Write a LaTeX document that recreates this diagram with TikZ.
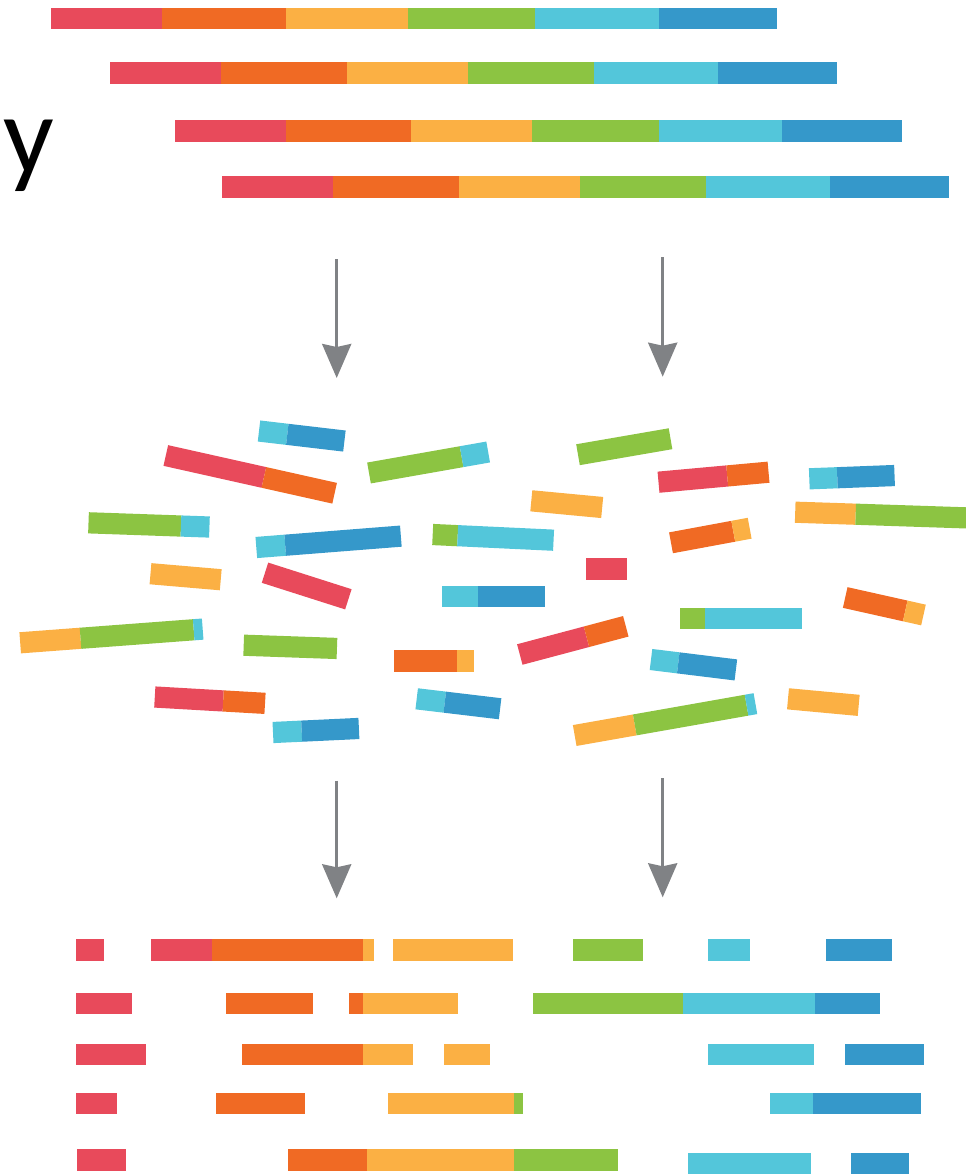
\documentclass[tikz,border=0pt]{standalone}
\usepackage{fontspec}
\newfontfamily\labelfont{Carlito}
\usetikzlibrary{arrows.meta}
\definecolor{cR}{HTML}{E84A5B}
\definecolor{cO}{HTML}{F06A24}
\definecolor{cY}{HTML}{FBB044}
\definecolor{cG}{HTML}{8CC442}
\definecolor{cL}{HTML}{53C6DA}
\definecolor{cB}{HTML}{3598CA}
\definecolor{cGray}{HTML}{808285}
\tikzset{
  flowarrow/.style={draw=cGray, line width=3.2pt, -{Stealth[length=34pt,width=29pt,inset=3pt]}},
  letter/.style={inner sep=0pt, outer sep=0pt, font=\labelfont\fontsize{112}{130}\selectfont, text=black},
}
% fragment: left-end midpoint x, y, visual angle, list colour/from/to along the bar
\newcommand{\frg}[4]{\begin{scope}[shift={(#1,#2)},rotate=#3]
  \foreach \c/\a/\b in {#4}{\fill[\c] (\a,-10.6) rectangle (\b,10.6);}
\end{scope}}
% horizontal bar row: top y, bottom y, list colour/x0/x1
\newcommand{\hrow}[3]{\foreach \c/\a/\b in {#3}{\fill[\c] (\a,#1) rectangle (\b,#2);}}
\begin{document}
\begin{tikzpicture}[x=1pt,y=-1pt]
\useasboundingbox (0,0) rectangle (966,1175);
\clip (0,0) rectangle (966,1175);

% ---- genome copies (top)
\hrow{7.5}{29}{cR/50.7/161.7, cO/161.7/286.3, cY/286.3/408, cG/408/534.7, cL/534.7/658.7, cB/658.7/777}
\hrow{62}{84.3}{cR/110.3/221.3, cO/221.3/347, cY/347/468.3, cG/468.3/594, cL/594/718, cB/718/837}
\hrow{120}{142}{cR/174.7/286.3, cO/286.3/410.7, cY/410.7/532, cG/532/658.7, cL/658.7/782.3, cB/782.3/901.7}
\hrow{175.7}{197.7}{cR/222.3/333.3, cO/333.3/458.7, cY/458.7/580, cG/580/705.7, cL/705.7/829.7, cB/829.7/949}

\node[letter, anchor=base west] (ylab) at (4,173) {y};

% ---- arrows
\coordinate (a1s) at (336.7,259.3);
\coordinate (a1e) at (336.7,378);
\coordinate (a2s) at (662.7,257.3);
\coordinate (a2e) at (662.7,376.7);
\coordinate (b1s) at (336.7,780.7);
\coordinate (b1e) at (336.7,898.3);
\coordinate (b2s) at (662.7,778.3);
\coordinate (b2e) at (662.7,897.3);
\draw[flowarrow] (a1s) -- (a1e);
\draw[flowarrow] (a2s) -- (a2e);
\draw[flowarrow] (b1s) -- (b1e);
\draw[flowarrow] (b2s) -- (b2e);

% ---- shuffled fragments (middle)
\frg{259}{431}{-6.7}{cL/0/28.5, cB/28.5/86}
\frg{165.8}{455.5}{-12.6}{cR/0/100.5, cO/100.5/173}
\frg{369}{473}{10}{cG/0/94, cL/94/121}
\frg{88.5}{522.8}{-2}{cG/0/92.5, cL/92.5/121}
\frg{256.3}{547.5}{4.5}{cL/0/29, cB/29/145}
\frg{432.7}{534.5}{-2.7}{cG/0/25, cL/25/121}
\frg{150.5}{573.7}{-4.9}{cY/0/70.5}
\frg{265}{572.7}{-17.7}{cR/0/87.5}
\hrow{585.7}{607.3}{cL/441.7/478.3, cB/478.3/545}
\frg{20.2}{642.8}{4.3}{cY/0/60.5, cG/60.5/174, cL/174/183}
\frg{243.7}{645.2}{-2}{cG/0/93.3}
\hrow{650}{672.3}{cO/394.3/456.7, cY/456.7/474.3}
\frg{154.8}{697}{-3.3}{cR/0/68.5, cO/68.5/110.4}
\frg{273}{732.5}{2.7}{cL/0/28.7, cB/28.7/86}
\frg{416.7}{698.8}{-6.8}{cL/0/28.3, cB/28.3/84}
\frg{519.8}{654.5}{14.9}{cR/0/69, cO/69/109.7}
\hrow{608.3}{629.3}{cG/679.7/704.7, cL/704.7/802}
\frg{845.2}{597.5}{-12.6}{cO/0/61.5, cY/61.5/80.2}
\frg{651}{659.5}{-7}{cL/0/27.5, cB/27.5/85.5}
\frg{574.7}{735.5}{10}{cY/0/61, cG/61/174.5, cL/174.5/183.5}
\frg{788}{698.8}{-5.3}{cY/0/71}
\frg{578}{454.7}{9.8}{cG/0/93.9}
\frg{658.5}{482.2}{5.2}{cR/0/69, cO/69/110.5}
\frg{809.3}{478.8}{2.2}{cL/0/28, cB/28/85.3}
\frg{531.3}{500.8}{-5.4}{cY/0/71.2}
\frg{795.2}{512.2}{-1.9}{cY/0/60.5, cG/60.5/175}
\frg{671}{542.8}{10.5}{cO/0/63.3, cY/63.3/80}
\hrow{557.7}{580}{cR/586.3/627.3}

% ---- aligned reads (bottom)
\hrow{939.3}{960.7}{cR/76.3/104.3, cR/150.7/211.7, cO/211.7/362.7, cY/362.7/374.3, cY/392.7/513, cG/573/643, cL/708/750.3, cB/826.3/892.3}
\hrow{992.7}{1014.3}{cR/75.7/132.3, cO/225.7/313.3, cO/349.3/362.7, cY/362.7/457.7, cG/533/683, cL/683/815.3, cB/815.3/880.3}
\hrow{1044}{1065}{cR/76.3/146, cO/242.3/362.7, cY/362.7/412.7, cY/443.7/490.3, cL/708/813.7, cB/844.7/924}
\hrow{1092.7}{1114}{cR/76.3/117.3, cO/215.7/305, cY/388.3/513.7, cG/513.7/523, cL/770.3/813, cB/813/921.3}
\hrow{1149.3}{1170.7}{cR/77/125.7, cO/288/366.7, cY/366.7/513.7, cG/513.7/618}
\hrow{1153.3}{1174}{cL/688/811.3, cB/851.3/909}
\end{tikzpicture}
\end{document}
